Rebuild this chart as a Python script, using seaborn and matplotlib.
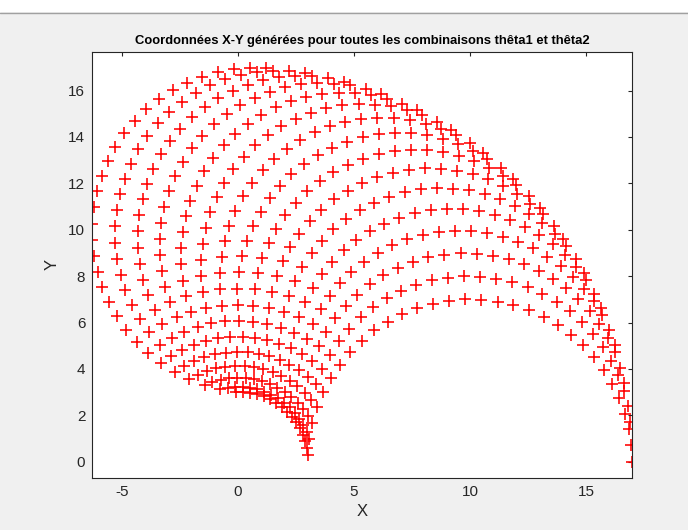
import numpy as np
import pandas as pd
import matplotlib
matplotlib.use("Agg")
import matplotlib.pyplot as plt
import seaborn as sns

# Longueurs des segments du bras
L1 = 10
L2 = 7

# Angles (radians) utilisés pour toutes les combinaisons
theta1 = [0.0, 0.1, 0.2, 0.3, 0.4, 0.5, 0.6, 0.7, 0.8, 0.9, 1.0, 1.1, 1.2, 1.3, 1.4, 1.5]
theta2 = [0.0, 0.1, 0.2, 0.3, 0.4, 0.5, 0.6, 0.7, 0.8, 0.9, 1.0, 1.1, 1.2, 1.3, 1.4, 1.5,
          1.6, 1.7, 1.8, 1.9, 2.0, 2.1, 2.2, 2.3, 2.4, 2.5, 2.6, 2.7, 2.8, 2.9, 3.0, 3.1]

# Coordonnées X-Y (cinématique directe)
t1, t2 = np.meshgrid(theta1, theta2, indexing="ij")
df = pd.DataFrame({
    "X": (L1 * np.cos(t1) + L2 * np.cos(t1 + t2)).ravel(),
    "Y": (L1 * np.sin(t1) + L2 * np.sin(t1 + t2)).ravel(),
})

sns.set_style("white")
plt.rcParams["font.family"] = ["Liberation Sans", "DejaVu Sans"]
plt.rcParams["axes.unicode_minus"] = False

fig = plt.figure(figsize=(6.88, 5.30), dpi=100)
fig.patch.set_facecolor("#f0f0f0")
# bandeau blanc de la fenêtre en haut
fig.patches.append(plt.Rectangle((0, 1 - 12 / 530), 1, 12 / 530, transform=fig.transFigure,
                                 facecolor="white", edgecolor="none", zorder=0))
fig.lines.append(plt.Line2D([0, 1], [1 - 13 / 530, 1 - 13 / 530], transform=fig.transFigure,
                            color="#a0a0a0", linewidth=1))

ax = fig.add_axes([92.3 / 688, 1 - 477.7 / 530, 540 / 688, 425.7 / 530])
sns.scatterplot(data=df, x="X", y="Y", marker="+", color="red", s=68, linewidth=1.15, ax=ax)

ax.set_xlim(df["X"].min(), df["X"].max())
ypad = 0.69
ax.set_ylim(df["Y"].min() - ypad, df["Y"].max() + ypad)
ax.set_xticks([-5, 0, 5, 10, 15])
ax.set_yticks([0, 2, 4, 6, 8, 10, 12, 14, 16])

for s in ax.spines.values():
    s.set_color("#262626")
    s.set_linewidth(0.8)
ax.tick_params(direction="in", length=3, width=0.8, color="#262626", labelcolor="#262626",
               labelsize=11, top=True, right=True, pad=5)

ax.set_title("Coordonnées X-Y générées pour toutes les combinaisons thêta1 et thêta2",
             fontsize=9.4, fontweight="bold", color="black", pad=6)
ax.set_xlabel("X", fontsize=12, color="#262626", labelpad=4)
ax.set_ylabel("Y", fontsize=12, color="#262626", labelpad=6)

fig.savefig("out.png", dpi=100, facecolor=fig.get_facecolor())
